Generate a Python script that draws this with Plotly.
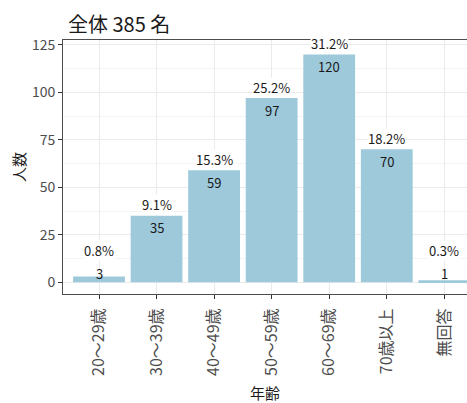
import plotly.graph_objects as go

categories = ["20～29歳", "30～39歳", "40～49歳", "50～59歳", "60～69歳", "70歳以上", "無回答"]
counts = [3, 35, 59, 97, 120, 70, 1]
pct_labels = ["0.8%", "9.1%", "15.3%", "25.2%", "31.2%", "18.2%", "0.3%"]
title_text = "全体 385 名"
y_ticks = [0, 25, 50, 75, 100, 125]

FONT = "Noto Sans CJK JP"
BAR = "#9DC9DA"

fig = go.Figure()
fig.add_trace(go.Bar(
    x=categories, y=counts, marker=dict(color=BAR, line=dict(width=0)),
    width=0.9, hoverinfo="skip",
))

annotations = []
for cat, n, p in zip(categories, counts, pct_labels):
    base = max(n, 11)
    annotations.append(dict(x=cat, y=base + 5.8, text=p, showarrow=False,
                            xref="x", yref="y", bgcolor="white", borderpad=0,
                            font=dict(family=FONT, size=13, color="#1a1a1a")))
    annotations.append(dict(x=cat, y=base - 6.3, text=str(n), showarrow=False,
                            xref="x", yref="y",
                            font=dict(family=FONT, size=13, color="#1a1a1a")))

fig.update_layout(
    width=467, height=403,
    margin=dict(l=63, r=0, t=40, b=109, autoexpand=False),
    paper_bgcolor="white", plot_bgcolor="white",
    showlegend=False,
    font=dict(family=FONT, color="#1a1a1a"),
    title=dict(text=title_text, x=68 / 467, xref="container", xanchor="left",
               y=1 - 25 / 403, yref="container", yanchor="middle",
               font=dict(family=FONT, size=20, color="#1a1a1a")),
    annotations=annotations,
)
fig.update_xaxes(
    type="category", range=[-0.6255, 6.394], automargin=False,
    showline=True, mirror=True, linecolor="#4d4d4d", linewidth=1,
    ticks="outside", ticklen=4, tickcolor="#333333", tickwidth=1,
    ticklabelstandoff=3,
    tickangle=-90, tickfont=dict(family=FONT, size=16, color="#4d4d4d"),
    showgrid=True, gridcolor="#EBEBEB", gridwidth=1,
    title=dict(text="年齢", font=dict(family=FONT, size=15, color="#1a1a1a"), standoff=16),
    zeroline=False,
)
fig.update_yaxes(
    range=[-6.2, 127.6], tickvals=y_ticks, automargin=False,
    showline=True, linecolor="#4d4d4d", linewidth=1,
    ticks="outside", ticklen=4, tickcolor="#333333", tickwidth=1,
    tickfont=dict(family=FONT, size=14, color="#4d4d4d"),
    showgrid=True, gridcolor="#EBEBEB", gridwidth=1,
    minor=dict(tickvals=[12.5, 37.5, 62.5, 87.5, 112.5], showgrid=True,
               gridcolor="#F3F3F3", gridwidth=1, ticks=""),
    title=dict(text="人数", font=dict(family=FONT, size=15, color="#1a1a1a"), standoff=2),
    zeroline=False,
)

fig.write_html("out.html", config={"displayModeBar": False},
               post_script="document.body.style.margin='0';document.body.style.padding='0';")
